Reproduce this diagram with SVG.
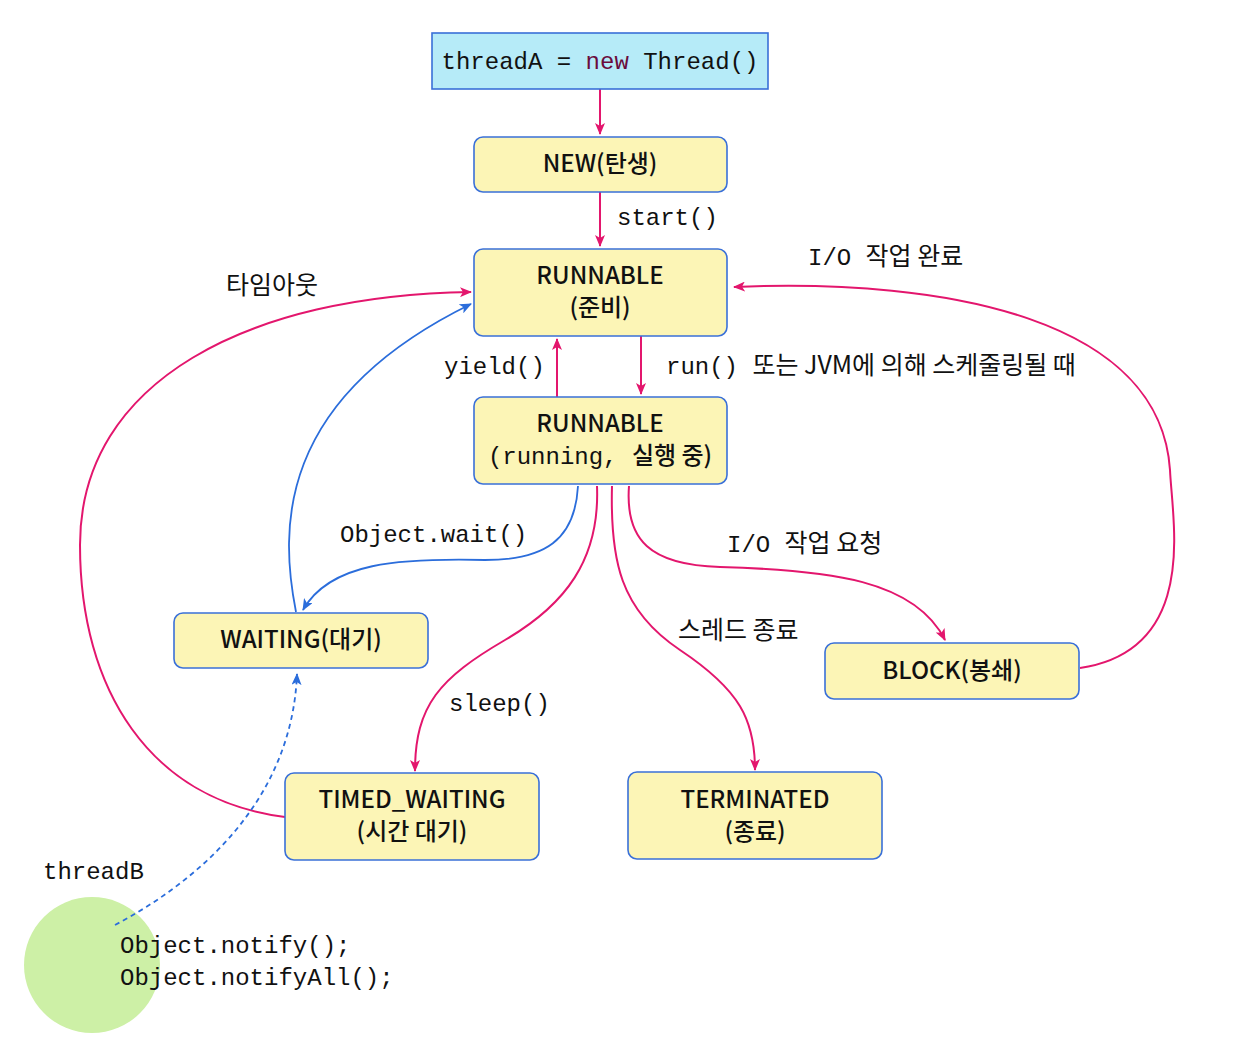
<svg xmlns="http://www.w3.org/2000/svg" width="1250" height="1042" viewBox="0 0 1250 1042">
<style>
.node{fill:#fcf5b6;stroke:#3a70d8;stroke-width:1.6}
.nt{font-family:"Noto Sans CJK KR","Noto Sans",sans-serif;font-size:24px;font-weight:500;fill:#111;text-anchor:middle}
.lbl{font-family:"Liberation Mono","DejaVu Sans Mono","Noto Sans CJK KR",monospace;font-size:24px;fill:#111}
.mono{font-family:"Liberation Mono","DejaVu Sans Mono",monospace;font-weight:normal}
.ko{font-family:"Noto Sans CJK KR","Noto Sans",sans-serif;font-size:25px}
.pk{fill:none;stroke:#e3166d;stroke-width:2}
.bl{fill:none;stroke:#2b6ddb;stroke-width:1.8}
</style>
<defs>
<marker id="ap" viewBox="0 0 12 10" refX="11" refY="5" markerWidth="12" markerHeight="10" markerUnits="userSpaceOnUse" orient="auto"><path d="M0,0 L12,5 L0,10 L3,5 z" fill="#e3166d"/></marker>
<marker id="ab" viewBox="0 0 12 10" refX="11" refY="5" markerWidth="12" markerHeight="10" markerUnits="userSpaceOnUse" orient="auto"><path d="M0,0 L12,5 L0,10 L3,5 z" fill="#2b6ddb"/></marker>
</defs>
<rect width="1250" height="1042" fill="#fff"/>
<circle cx="92" cy="965" r="68" fill="#cdf0a6"/>
<g id="connectors">
<path class="pk" d="M600 89 L600 134" marker-end="url(#ap)"/>
<path class="pk" d="M600 192 L600 246" marker-end="url(#ap)"/>
<path class="pk" d="M557 397 L557 339" marker-end="url(#ap)"/>
<path class="pk" d="M641 336 L641 394" marker-end="url(#ap)"/>
<path class="pk" d="M285 817 C150 800, 80 690, 80 545 C80 380, 250 295, 471 292" marker-end="url(#ap)"/>
<path class="bl" d="M296 612 C280 530, 275 400, 471 304" marker-end="url(#ab)"/>
<path class="bl" d="M578 486 C575 540, 545 560, 485 560 C400 558, 330 562, 303 610" marker-end="url(#ab)"/>
<path class="pk" d="M597 486 C600 560, 565 605, 505 640 C440 678, 415 705, 415 771" marker-end="url(#ap)"/>
<path class="pk" d="M612 486 C610 560, 620 610, 680 650 C740 690, 755 720, 755 770" marker-end="url(#ap)"/>
<path class="pk" d="M629 486 C625 540, 650 565, 720 567 C830 570, 915 580, 945 640" marker-end="url(#ap)"/>
<path class="pk" d="M1080 668 C1200 650, 1172 520, 1170 470 C1160 320, 950 278, 734 287" marker-end="url(#ap)"/>
<path class="bl" d="M115 925 C200 880, 292 800, 297 674" stroke-dasharray="5,4" marker-end="url(#ab)"/>
</g>
<g id="threadA"><rect x="432" y="33" width="336" height="56" fill="#b6ebf8" stroke="#3a70d8" stroke-width="1.6"/><text class="lbl" x="600" y="69" text-anchor="middle">threadA = <tspan fill="#6a0c3c">new</tspan> Thread()</text></g>
<g id="new"><rect class="node" x="474" y="137" width="253" height="55" rx="9"/><text class="nt" x="600" y="172">NEW(탄생)</text></g>
<g id="runnable"><rect class="node" x="474" y="249" width="253" height="87" rx="9"/><text class="nt" x="600" y="284">RUNNABLE</text><text class="nt" x="600" y="316">(준비)</text></g>
<g id="running"><rect class="node" x="474" y="397" width="253" height="87" rx="9"/><text class="nt" x="600" y="432">RUNNABLE</text><text class="nt" x="600" y="464" xml:space="preserve"><tspan class="mono">(running, </tspan>실행 중)</text></g>
<g id="waiting"><rect class="node" x="174" y="613" width="254" height="55" rx="9"/><text class="nt" x="301" y="648">WAITING(대기)</text></g>
<g id="block"><rect class="node" x="825" y="643" width="254" height="56" rx="9"/><text class="nt" x="952" y="679">BLOCK(봉쇄)</text></g>
<g id="timed"><rect class="node" x="285" y="773" width="254" height="87" rx="9"/><text class="nt" x="412" y="808">TIMED_WAITING</text><text class="nt" x="412" y="840">(시간 대기)</text></g>
<g id="terminated"><rect class="node" x="628" y="772" width="254" height="87" rx="9"/><text class="nt" x="755" y="808">TERMINATED</text><text class="nt" x="755" y="840">(종료)</text></g>
<g id="labels">
<text class="lbl" x="617" y="225">start()</text>
<text class="lbl" x="444" y="374">yield()</text>
<text class="lbl" x="666" y="374">run() <tspan class="ko">또는 JVM에 의해 스케줄링될 때</tspan></text>
<text class="lbl ko" x="226" y="294">타임아웃</text>
<text class="lbl" x="808" y="265">I/O <tspan class="ko">작업 완료</tspan></text>
<text class="lbl" x="340" y="542">Object.wait()</text>
<text class="lbl" x="727" y="552">I/O <tspan class="ko">작업 요청</tspan></text>
<text class="lbl ko" x="678" y="639">스레드 종료</text>
<text class="lbl" x="449" y="711">sleep()</text>
<text class="lbl" x="43" y="879">threadB</text>
<text class="lbl" x="120" y="953">Object.notify();</text>
<text class="lbl" x="120" y="985">Object.notifyAll();</text>
</g>
</svg>
